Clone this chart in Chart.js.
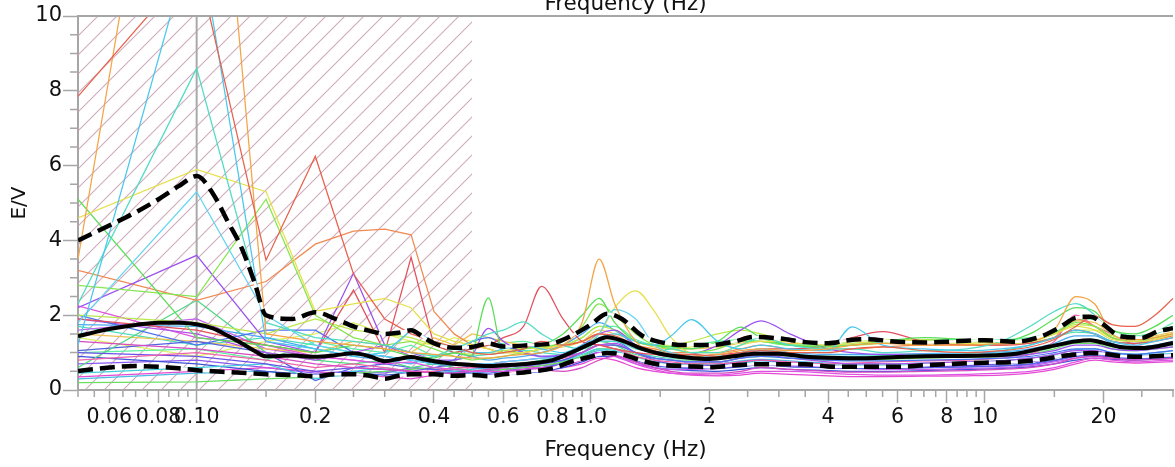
<!DOCTYPE html>
<html>
<head>
<meta charset="utf-8">
<script src="https://cdn.jsdelivr.net/npm/chart.js@4.4.0/dist/chart.umd.min.js"></script>
<style>
html,body{margin:0;padding:0;background:#fff}
canvas{display:block}
</style>
</head>
<body>
<canvas id="hv" width="1175" height="467"></canvas>
<script>
'use strict';
/* ══ H/V spectra — individual windows, mean and ±1 std ══ */

// frequencies of the individual window curves (Hz)
const freqs = [0.05,0.1,0.15,0.2,0.25,0.3,0.35,0.4,0.45,0.5,
  0.55,0.6,0.675,0.75,0.85,0.95,1.05,1.15,1.3,1.45,
  1.6,1.8,2.1,2.4,2.7,3.2,4,4.6,5.5,7,
  9,11,13,15,17,19,21,24,27,30];
const LOW_END = 9; // index of 0.5 Hz: straight segments below, smooth above

const curves = [
  [7.85,11.5,3.47,6.25,3.1,1.9,1.5,1.3,1.15,1.0, 0.95,1.0,1.1,1.3,1.2,1.3,1.5,1.45,1.2,1.05, 0.95,0.95,0.9,1.0,1.05,1.0,1.0,1.1,1.15,1.05, 1.0,1.05,1.15,1.35,1.7,1.98,1.75,1.7,2.0,2.45],
  [3.5,22,1.5,1.3,1.2,1.1,1.0,0.95,0.9,0.85, 0.85,0.9,0.95,1.0,1.2,1.8,3.5,2.3,1.3,1.0, 0.95,0.9,0.95,1.05,1.1,1.05,1.1,1.2,1.25,1.2, 1.2,1.25,1.3,1.6,2.5,2.3,1.5,1.35,1.4,1.5],
  [1.2,12.5,1.3,1.1,0.9,1.0,1.6,1.3,1.1,1.0, 1.0,1.1,1.2,1.1,1.0,1.2,1.4,1.5,1.3,1.2, 1.45,1.88,1.3,1.1,1.2,1.1,1.05,1.69,1.2,1.1, 1.05,1.1,1.2,1.4,1.6,1.5,1.3,1.2,1.3,1.4],
  [2.3,8.6,1.8,1.4,1.3,1.2,1.0,0.9,1.1,1.3, 1.5,1.6,1.82,1.5,1.2,1.1,1.3,1.3,1.1,1.0, 1.1,1.0,1.0,1.2,1.4,1.2,1.1,1.1,1.0,1.05, 1.1,1.3,1.7,2.1,2.31,2.0,1.5,1.4,1.5,1.7],
  [1.8,5.3,2.0,1.2,1.0,0.9,0.8,0.7,0.65,0.7, 0.7,0.75,0.8,0.85,0.9,1.1,1.5,2.15,1.9,1.2, 1.0,0.9,0.85,1.0,1.1,1.0,0.9,0.9,0.9,0.95, 0.95,1.0,1.05,1.2,1.35,1.35,1.2,1.1,1.15,1.2],
  [4.6,5.9,5.3,2.1,2.3,2.45,2.2,1.5,1.3,1.2, 1.1,1.0,1.0,1.1,1.2,1.3,1.5,2.2,2.65,2.1, 1.4,1.0,1.0,1.2,1.3,1.3,1.2,1.25,1.3,1.3, 1.25,1.3,1.35,1.5,1.7,1.6,1.35,1.3,1.35,1.5],
  [5.1,1.4,1.2,1.0,1.2,1.1,0.9,0.85,1.0,0.9, 2.46,1.0,1.1,1.2,1.5,2.0,2.45,1.8,1.3,1.2, 1.15,1.1,1.3,1.68,1.4,1.2,1.15,1.2,1.3,1.4, 1.35,1.3,1.5,1.9,2.2,2.1,1.6,1.5,1.7,2.0],
  [2.8,2.5,5.1,2.0,1.4,1.2,1.3,1.1,0.9,0.8, 0.85,0.9,1.0,1.1,1.3,1.7,2.3,2.0,1.5,1.2, 1.1,1.0,1.1,1.3,1.3,1.2,1.2,1.2,1.25,1.3, 1.3,1.25,1.3,1.5,1.8,1.7,1.4,1.3,1.4,1.5],
  [2.2,3.6,1.3,1.0,3.12,1.2,1.0,0.8,0.8,0.9, 1.65,1.3,1.0,0.9,0.95,1.2,1.5,1.6,1.2,1.0, 0.9,0.95,1.2,1.6,1.85,1.5,1.1,1.0,0.95,0.95, 0.9,0.9,0.95,1.05,1.2,1.2,1.1,1.05,1.1,1.15],
  [1.9,1.6,1.2,1.0,2.67,1.0,3.55,1.2,1.0,1.1, 1.2,1.4,1.7,2.77,1.9,1.3,1.2,1.1,1.0,0.95, 0.9,0.9,0.95,1.0,1.1,1.1,1.2,1.4,1.56,1.3, 1.2,1.2,1.25,1.4,1.6,1.5,1.3,1.25,1.3,1.4],
  [3.2,2.4,2.9,3.9,4.25,4.3,4.15,2.1,1.5,1.2, 1.1,1.0,1.0,1.1,1.2,1.3,1.5,1.4,1.2,1.1, 1.0,1.0,1.0,1.1,1.2,1.1,1.1,1.1,1.15,1.2, 1.2,1.2,1.25,1.4,1.9,1.7,1.4,1.3,1.35,1.45],
  [2.0,1.8,1.5,1.9,1.6,1.5,1.4,1.2,1.0,0.95, 1.0,1.05,1.1,1.15,1.2,1.4,1.7,1.6,1.3,1.2, 1.2,1.3,1.5,1.6,1.5,1.3,1.25,1.3,1.35,1.35, 1.3,1.3,1.35,1.5,1.75,1.7,1.45,1.35,1.4,1.5],
  [2.0,1.2,1.6,1.6,1.0,0.9,0.8,0.7,0.8,1.3, 1.4,1.2,1.0,0.9,0.9,1.1,1.3,1.3,1.0,0.85, 0.8,0.75,0.75,0.85,0.9,0.85,0.8,0.78,0.78,0.8, 0.82,0.85,0.9,1.0,1.1,1.1,1.0,0.95,1.0,1.05],
  [1.9,1.5,1.0,0.8,1.0,1.2,0.9,0.8,0.7,0.7, 0.7,0.75,0.8,0.85,0.9,1.0,1.2,1.25,1.0,0.85, 0.8,0.75,0.75,0.85,0.95,0.85,0.75,0.7,0.7,0.72, 0.75,0.78,0.85,0.95,1.05,1.05,0.95,0.9,0.92,0.95],
  [2.25,1.4,1.2,0.9,0.8,0.7,0.75,0.6,0.55,0.5, 0.5,0.5,0.55,0.6,0.65,0.8,1.0,0.95,0.7,0.55, 0.45,0.42,0.4,0.45,0.5,0.5,0.45,0.42,0.4,0.4, 0.42,0.45,0.5,0.6,0.75,0.85,0.8,0.75,0.78,0.8],
  [1.3,1.1,0.9,0.7,0.6,0.55,0.5,0.45,0.45,0.5, 0.55,0.6,0.65,0.55,0.5,0.6,0.8,0.9,0.75,0.6, 0.5,0.45,0.45,0.5,0.6,0.55,0.5,0.48,0.48,0.5, 0.52,0.55,0.6,0.7,0.85,0.9,0.85,0.8,0.82,0.85],
  [0.8,1.0,0.8,0.6,0.7,0.6,0.5,0.5,0.6,0.6, 0.65,0.7,0.7,0.75,0.85,1.0,1.2,1.1,0.9,0.8, 0.75,0.7,0.7,0.75,0.8,0.75,0.7,0.72,0.75,0.78, 0.8,0.85,0.95,1.3,2.0,1.7,1.5,1.2,1.15,1.2],
  [1.75,1.7,1.4,1.1,0.9,0.8,0.7,0.9,1.0,0.9, 0.8,0.85,0.9,1.0,1.2,1.5,1.8,1.6,1.2,1.0, 0.95,0.9,0.9,1.0,1.05,1.0,0.95,0.95,0.95,0.97, 1.0,1.02,1.1,1.25,1.45,1.45,1.25,1.15,1.2,1.3],
  [1.0,0.9,0.7,0.5,0.6,0.55,0.5,0.6,0.7,0.6, 0.6,0.62,0.65,0.7,0.8,1.0,1.2,1.2,1.0,0.8, 0.7,0.65,0.65,0.75,0.8,0.72,0.65,0.62,0.6,0.62, 0.65,0.7,0.75,0.85,1.0,1.0,0.92,0.88,0.9,0.92],
  [0.6,2.4,1.0,0.8,0.7,0.8,0.6,0.7,0.6,0.5, 0.55,0.6,0.7,0.8,0.9,1.0,1.3,1.2,0.95,0.85, 0.8,0.8,0.85,0.9,0.95,0.9,0.85,0.85,0.85,0.9, 0.92,0.95,1.0,1.15,1.3,1.3,1.15,1.1,1.15,1.2],
  [0.45,0.6,0.7,0.3,0.5,0.6,0.5,0.45,0.5,0.55, 0.6,0.65,0.7,0.75,0.8,0.95,1.1,1.05,0.85,0.75, 0.7,0.68,0.68,0.72,0.78,0.72,0.68,0.66,0.66,0.68, 0.7,0.72,0.78,0.9,1.0,1.02,0.95,0.92,0.95,0.97],
  [0.2,0.22,0.3,0.35,0.45,0.5,0.55,0.6,0.55,0.5, 0.5,0.55,0.6,0.65,0.75,0.9,1.1,1.1,0.9,0.75, 0.7,0.7,0.75,0.85,0.9,0.85,0.8,0.8,0.82,0.85, 0.88,0.9,0.95,1.1,1.25,1.25,1.1,1.05,1.1,1.15],
  [1.05,1.3,1.0,0.25,0.6,0.7,0.6,0.55,0.5,0.45, 0.45,0.5,0.55,0.6,0.7,0.85,1.0,1.0,0.8,0.65, 0.6,0.58,0.58,0.62,0.68,0.62,0.6,0.58,0.58,0.6, 0.62,0.65,0.7,0.8,0.9,0.92,0.88,0.85,0.86,0.88],
  [1.5,1.3,1.1,1.0,1.3,1.2,1.0,1.4,1.2,1.5, 1.4,1.3,1.2,1.1,1.15,1.3,1.6,1.5,1.3,1.15, 1.1,1.1,1.15,1.25,1.3,1.25,1.25,1.3,1.35,1.3, 1.3,1.3,1.35,1.5,1.85,1.8,1.5,1.4,1.45,1.55],
  [1.6,1.9,1.1,0.9,0.8,0.7,0.9,0.7,0.6,0.6, 0.58,0.55,0.55,0.6,0.7,0.85,1.0,0.9,0.7,0.6, 0.55,0.55,0.58,0.65,0.72,0.65,0.6,0.58,0.55,0.55, 0.58,0.6,0.65,0.75,0.85,0.9,0.85,0.82,0.85,0.88],
  [1.0,1.1,0.8,1.3,1.1,1.0,1.2,0.9,1.0,1.1, 1.2,1.25,1.3,1.2,1.2,1.4,1.7,1.7,1.35,1.2, 1.15,1.2,1.3,1.35,1.3,1.2,1.2,1.25,1.3,1.35, 1.35,1.35,1.4,1.55,1.85,1.9,1.6,1.45,1.55,1.8],
  [0.9,0.7,0.5,0.4,0.45,0.4,0.45,0.5,0.45,0.4, 0.4,0.42,0.45,0.5,0.6,0.75,0.9,0.9,0.75,0.6, 0.55,0.52,0.5,0.55,0.6,0.55,0.52,0.5,0.5,0.52, 0.55,0.58,0.62,0.7,0.8,0.85,0.82,0.8,0.82,0.85],
  [0.35,0.5,0.6,0.5,0.4,0.35,0.3,0.4,0.45,0.4, 0.4,0.45,0.5,0.55,0.6,0.7,0.85,0.8,0.6,0.5, 0.45,0.4,0.38,0.4,0.45,0.42,0.38,0.36,0.36,0.37, 0.38,0.4,0.45,0.55,0.7,0.8,0.75,0.72,0.74,0.76],
  [1.4,0.9,1.3,1.5,1.8,1.5,1.3,1.2,1.4,1.3, 1.2,1.15,1.1,1.15,1.2,1.3,1.5,1.4,1.2,1.1, 1.1,1.15,1.25,1.35,1.3,1.2,1.15,1.2,1.25,1.25, 1.22,1.22,1.28,1.4,1.6,1.6,1.4,1.3,1.35,1.45],
  [1.7,1.2,1.4,1.2,1.0,0.9,0.8,0.7,0.8,0.9, 0.95,1.0,1.05,1.0,0.95,1.0,1.2,1.2,1.0,0.9, 0.85,0.85,0.9,0.95,1.0,0.95,0.9,0.9,0.92,0.95, 0.98,1.05,1.2,1.4,1.55,1.5,1.3,1.25,1.35,1.5],
  [0.7,0.8,0.6,0.45,0.5,0.45,0.6,0.55,0.5,0.5, 0.52,0.55,0.6,0.65,0.72,0.85,1.0,1.0,0.8,0.68, 0.62,0.6,0.6,0.65,0.7,0.65,0.6,0.58,0.58,0.6, 0.62,0.64,0.68,0.78,0.9,0.95,0.9,0.86,0.88,0.9],
  [0.3,0.45,0.5,0.35,0.4,0.5,0.45,0.5,0.4,0.45, 0.5,0.55,0.62,0.7,0.78,0.9,1.05,1.0,0.82,0.7, 0.66,0.66,0.7,0.78,0.82,0.78,0.72,0.7,0.7,0.72, 0.75,0.78,0.85,0.95,1.08,1.1,1.0,0.96,1.0,1.05]
];
const curveColors = ['#e8604c','#f5a445','#48c8ec','#52dcc4','#62d4f2','#e6e04e','#5ade5a','#86e650',
  '#9c52f0','#e2505e','#f08a52','#bae84a','#4a72f0','#b252e8','#e052e0','#d64ac4',
  '#f062aa','#4aaaf0','#6a52e8','#52d884','#42d0da','#6ade62','#5262e0','#f0c252',
  '#c262f0','#62f0a2','#3e52d8','#e64ad2','#def262','#4ae0ba','#8a5af0','#4abce2'];

// average curve and ±1 standard deviation
const blackFreqs = [0.05,0.06,0.07,0.08,0.09,0.1,0.11,0.12,0.13,0.14,
  0.15,0.175,0.2,0.225,0.25,0.275,0.3,0.325,0.35,0.375,
  0.4,0.45,0.5,0.55,0.6,0.7,0.8,0.9,1.0,1.1,
  1.2,1.35,1.5,1.75,2.0,2.3,2.6,3.0,3.5,4,
  4.5,5,6,7,8,10,12,14,15.5,17,
  18.5,20,22,25,27.5,30];
const upperHV = [4.0,4.4,4.75,5.1,5.45,5.72,5.25,4.5,3.8,2.9,
  2.0,1.9,2.08,1.9,1.7,1.58,1.5,1.53,1.6,1.42,
  1.25,1.13,1.15,1.24,1.16,1.2,1.25,1.47,1.75,2.04,
  1.9,1.45,1.28,1.2,1.2,1.29,1.42,1.38,1.28,1.25,
  1.33,1.36,1.29,1.27,1.29,1.33,1.29,1.45,1.68,1.93,
  1.96,1.75,1.44,1.4,1.57,1.65];
const meanHV = [1.44,1.63,1.74,1.8,1.8,1.76,1.65,1.45,1.25,1.05,
  0.9,0.92,0.89,0.93,0.98,0.9,0.77,0.83,0.88,0.82,
  0.77,0.7,0.67,0.64,0.66,0.71,0.8,1.02,1.24,1.41,
  1.32,1.1,0.97,0.87,0.83,0.9,0.97,0.97,0.89,0.86,
  0.85,0.85,0.88,0.9,0.91,0.92,0.97,1.12,1.22,1.3,
  1.33,1.26,1.15,1.12,1.17,1.26];
const lowerHV = [0.51,0.6,0.64,0.62,0.58,0.53,0.5,0.48,0.46,0.44,
  0.42,0.4,0.37,0.42,0.42,0.38,0.3,0.38,0.42,0.42,
  0.42,0.38,0.4,0.37,0.42,0.49,0.58,0.77,0.89,0.99,
  0.95,0.78,0.68,0.64,0.61,0.66,0.69,0.69,0.69,0.63,
  0.62,0.62,0.62,0.66,0.69,0.73,0.75,0.82,0.9,0.95,
  0.99,0.97,0.91,0.89,0.91,0.93];

// axes
const xMin = 0.05, xMax = 30, yMin = 0, yMax = 10;
const hatchBand = [0.05, 0.5];
const markFreq = 0.1;
const xTicks = [0.05,0.055,0.06,0.065,0.07,0.075,0.08,0.085,0.09,0.095,
  0.1,0.15,0.2,0.25,0.3,0.35,0.4,0.45,0.5,0.55,0.6,0.65,0.7,0.75,0.8,0.85,0.9,0.95,
  1,1.5,2,2.5,3,3.5,4,4.5,5,5.5,6,6.5,7,7.5,8,8.5,9,9.5,
  10,15,20,25,30];
const xLabelVals = [0.06,0.08,0.1,0.2,0.4,0.6,0.8,1,2,4,6,8,10,20];
const xLabelText = ['0.06','0.08','0.10','0.2','0.4','0.6','0.8','1.0','2','4','6','8','10','20'];
const yTicks = [0,0.5,1,1.5,2,2.5,3,3.5,4,4.5,5,5.5,6,6.5,7,7.5,8,8.5,9,9.5,10];
const yLabelVals = [0,2,4,6,8,10];
const xTitle = 'Frequency (Hz)';
const yTitle = 'E/V';

const FONT = 'DejaVu Sans';
const AXIS = '#a6a6a6';
const TXT = '#111111';

function findIdx(list, v){ return list.findIndex(t => Math.abs(t - v) < 1e-9); }

function makeHatch(){
  const s = 19, c = document.createElement('canvas');
  c.width = s; c.height = s;
  const g = c.getContext('2d');
  g.strokeStyle = 'rgba(196,156,176,0.85)'; g.lineWidth = 1.1;
  g.beginPath();
  g.moveTo(-1, s + 1); g.lineTo(s + 1, -1);
  g.moveTo(-1, 1); g.lineTo(1, -1);
  g.moveTo(s - 1, s + 1); g.lineTo(s + 1, s - 1);
  g.stroke();
  return c.getContext('2d').createPattern(c, 'repeat');
}

const pts = (fs, vs) => fs.map((f, i) => ({x: f, y: vs[i]}));

const datasets = [];
datasets.push({data: [{x: hatchBand[0], y: yMax}, {x: hatchBand[1], y: yMax}], fill: 'origin',
  backgroundColor: makeHatch(), borderWidth: 0, pointRadius: 0, order: 1000});
datasets.push({data: [{x: markFreq, y: yMin}, {x: markFreq, y: yMax}], borderColor: '#a9a9a9',
  borderWidth: 2, pointRadius: 0, order: 900});
curves.forEach((c, i) => {
  const p = pts(freqs, c);
  datasets.push({data: p.slice(0, LOW_END + 1), borderColor: curveColors[i], borderWidth: 1.25,
    pointRadius: 0, tension: 0, order: 500});
  datasets.push({data: p.slice(LOW_END), borderColor: curveColors[i], borderWidth: 1.25,
    pointRadius: 0, cubicInterpolationMode: 'monotone', order: 500});
});
[upperHV, lowerHV].forEach(v => {
  datasets.push({data: pts(blackFreqs, v), borderColor: '#ffffff', borderWidth: 2.5, pointRadius: 0,
    cubicInterpolationMode: 'monotone', order: 20});
  datasets.push({data: pts(blackFreqs, v), borderColor: '#000', borderWidth: 4.5, borderDash: [15, 7],
    pointRadius: 0, cubicInterpolationMode: 'monotone', order: 10});
});
datasets.push({data: pts(blackFreqs, meanHV), borderColor: '#000', borderWidth: 4, pointRadius: 0,
  cubicInterpolationMode: 'monotone', order: 5});

const decor = {
  id: 'decor',
  afterDraw(chart){
    const {ctx, chartArea: a, scales: {x, y}} = chart;
    ctx.save();
    ctx.strokeStyle = AXIS; ctx.lineWidth = 1.5;
    ctx.beginPath();
    xTicks.forEach(v => {
      if (findIdx(xLabelVals, v) >= 0) return;
      const p = x.getPixelForValue(v);
      ctx.moveTo(p, a.bottom); ctx.lineTo(p, a.bottom + 7);
    });
    yTicks.forEach(v => {
      if (findIdx(yLabelVals, v) >= 0) return;
      const p = y.getPixelForValue(v);
      ctx.moveTo(a.left - 8, p); ctx.lineTo(a.left, p);
    });
    ctx.stroke();
    ctx.lineWidth = 2;
    ctx.beginPath(); ctx.moveTo(a.left, a.top); ctx.lineTo(a.right, a.top); ctx.stroke();
    ctx.fillStyle = TXT; ctx.font = '21.5px "' + FONT + '"';
    ctx.textAlign = 'center'; ctx.textBaseline = 'alphabetic';
    ctx.fillText(xTitle, (a.left + a.right) / 2, 10);
    ctx.restore();
  }
};

new Chart(document.getElementById('hv'), {
  type: 'line',
  data: {datasets},
  plugins: [decor],
  options: {
    responsive: false, animation: false, events: [],
    layout: {padding: {top: 16, left: 0, right: 0, bottom: 0}},
    plugins: {legend: {display: false}, tooltip: {enabled: false}},
    scales: {
      x: {
        type: 'logarithmic', min: xMin, max: xMax,
        afterBuildTicks: s => { s.ticks = xTicks.map(v => ({value: v})); },
        afterFit: s => { s.height = 77; },
        ticks: {autoSkip: false, maxRotation: 0, minRotation: 0, padding: 2, color: TXT,
          font: {family: FONT, size: 20.5},
          callback: v => { const i = findIdx(xLabelVals, v); return i >= 0 ? xLabelText[i] : ''; }},
        grid: {drawOnChartArea: false, drawTicks: true, tickLength: 13, tickWidth: 1.5,
          tickColor: c => (c.tick && findIdx(xLabelVals, c.tick.value) >= 0) ? AXIS : 'rgba(0,0,0,0)'},
        border: {color: AXIS, width: 2},
        title: {display: true, text: xTitle, color: TXT, font: {family: FONT, size: 21.5}, padding: {top: 0, bottom: 4}}
      },
      y: {
        type: 'linear', min: yMin, max: yMax,
        afterBuildTicks: s => { s.ticks = yTicks.map(v => ({value: v})); },
        afterFit: s => { s.width = 78; },
        ticks: {padding: 1, color: TXT, font: {family: FONT, size: 21},
          callback: v => findIdx(yLabelVals, v) >= 0 ? String(v) : ''},
        grid: {drawOnChartArea: false, drawTicks: true, tickLength: 15, tickWidth: 1.5,
          tickColor: c => (c.tick && findIdx(yLabelVals, c.tick.value) >= 0) ? AXIS : 'rgba(0,0,0,0)'},
        border: {color: AXIS, width: 2},
        title: {display: true, text: yTitle, color: TXT, font: {family: FONT, size: 20}, padding: {top: 8, bottom: 0}}
      }
    }
  }
});
</script>
</body>
</html>
